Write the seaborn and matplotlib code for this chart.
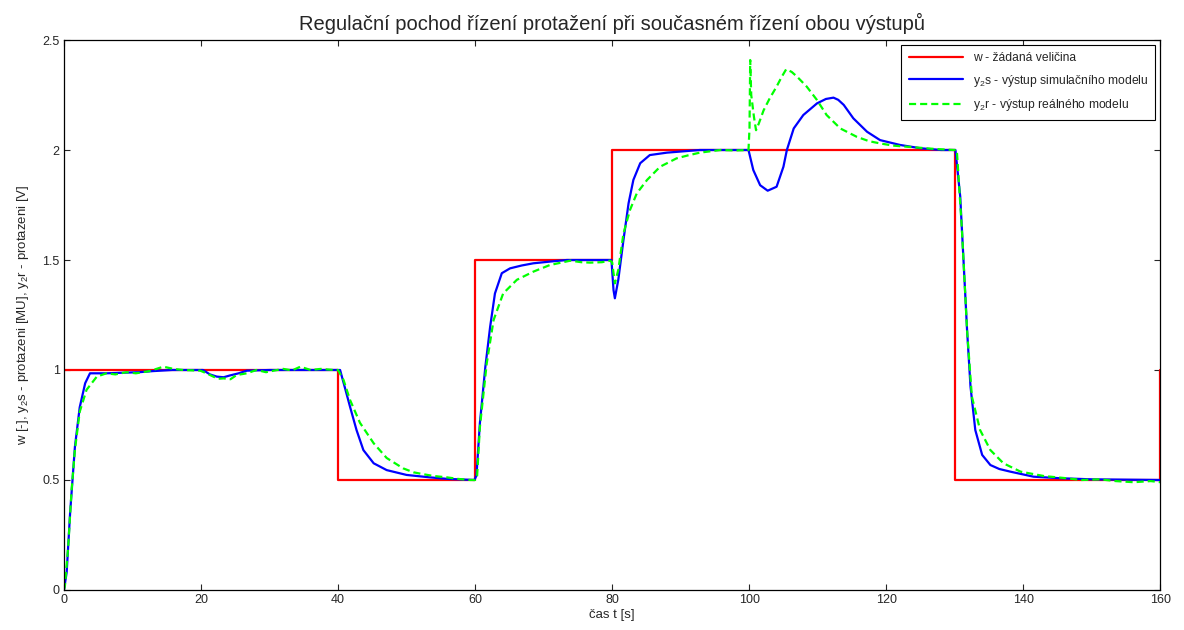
import matplotlib
matplotlib.use("Agg")
import pandas as pd
import seaborn as sns
import matplotlib.pyplot as plt

# w - setpoint (step sequence)
t_w = [0, 40, 40, 60, 60, 80, 80, 130, 130, 160, 160]
w = [1, 1, 0.5, 0.5, 1.5, 1.5, 2, 2, 0.5, 0.5, 1]

# y2s - simulation model output
t_y2s = [0, 0.4, 0.9, 1.6, 2.3, 3.1, 3.8, 5, 6.2, 8, 11, 13, 15.8, 18, 20.3, 21.3, 22.3, 23.3,
         24.2, 25.5, 26.7, 30, 35, 40,
         40.3, 41, 41.75, 42.7, 43.7, 45.2, 47.1, 50, 53.4, 56, 59.9,
         60.2, 60.7, 61.5, 62.2, 62.9, 63.9, 65.1, 66.8, 68.5, 71, 73.4, 79.9,
         80.2, 80.4, 80.9, 81.65, 82.4, 83.1, 84.1, 85.5, 88, 92.8, 99.9,
         100.6, 101.6, 102.7, 104.0, 105.0, 105.5, 106.5, 107.9, 109.9, 111.2, 112.3, 113.0,
         113.8, 115.2, 117.2, 119.1, 122, 125, 128, 130.1,
         130.8, 131.3, 131.8, 132.3, 133, 134, 135.2, 136.5, 138.1, 141.5, 145.4, 150, 160]
y2s = [0, 0.08, 0.35, 0.65, 0.83, 0.94, 0.985, 0.985, 0.985, 0.987, 0.99, 0.995, 1.0, 1.0, 1.0,
       0.98, 0.97, 0.967, 0.975, 0.985, 0.997, 1.0, 1.0, 1.0,
       1.0, 0.92, 0.833, 0.727, 0.636, 0.576, 0.545, 0.523, 0.512, 0.505, 0.5,
       0.52, 0.758, 1.015, 1.197, 1.348, 1.44, 1.462, 1.475, 1.485, 1.493, 1.5, 1.5,
       1.364, 1.326, 1.41, 1.59, 1.758, 1.864, 1.94, 1.977, 1.988, 2.0, 2.0,
       1.909, 1.84, 1.815, 1.833, 1.924, 2.0, 2.098, 2.159, 2.212, 2.232, 2.238, 2.228,
       2.205, 2.144, 2.083, 2.045, 2.023, 2.008, 2.0, 2.0,
       1.788, 1.485, 1.18, 0.924, 0.727, 0.614, 0.568, 0.55, 0.538, 0.515, 0.508, 0.503, 0.5]

# y2r - real model output
t_y2r = [0, 0.15, 0.63, 1.12, 1.6, 2.3, 3.3, 4.8, 6.2, 7.5, 9.1, 10.5, 12.5, 14.5, 16, 17.4,
         19.9, 20.8, 21.8, 22.5, 23.3, 24.3, 25.2, 26.7, 28.1, 29.5, 30.6, 32, 33.3, 34.5, 36,
         37.5, 39.4, 40,
         40.8, 41.75, 43.2, 45.2, 47.1, 49.5, 51, 52.5, 54, 55.9, 57.5, 59.3, 60,
         60.3, 60.7, 61.7, 62.7, 64.1, 66.1, 68.5, 70.9, 73.9, 75.5, 76.8, 78.5, 79.7, 80,
         80.4, 80.9, 81.65, 82.6, 83.6, 85.1, 87, 89.4, 91, 92.8, 95.8, 98, 99.9,
         100.05, 100.15, 100.3, 100.5, 100.7, 101.0, 101.4, 102.1, 103, 104.0, 104.7, 105.4,
         106.2, 107.0, 108.4, 109.9, 111.3, 113.3, 115.7, 117.5, 119.1, 121, 123, 125, 127, 129.9,
         130.3, 131.05, 131.8, 132.5, 133.7, 135.2, 137.1, 139.6, 143, 146.3, 148.5, 151.2,
         153.5, 156.1, 158.6, 160]
y2r = [0, 0.02, 0.2, 0.455, 0.636, 0.81, 0.91, 0.97, 0.985, 0.98, 0.99, 0.985, 0.995, 1.015,
       1.005, 1.0, 0.997, 0.985, 0.97, 0.96, 0.962, 0.958, 0.977, 0.985, 1.0, 0.99, 0.997, 1.005,
       0.998, 1.015, 1.0, 1.005, 1.0, 1.0,
       0.955, 0.864, 0.76, 0.667, 0.6, 0.553, 0.535, 0.526, 0.518, 0.512, 0.505, 0.5, 0.5,
       0.52, 0.74, 1.03, 1.227, 1.348, 1.41, 1.447, 1.477, 1.497, 1.49, 1.488, 1.49, 1.497, 1.49,
       1.394, 1.455, 1.62, 1.727, 1.803, 1.864, 1.924, 1.962, 1.975, 1.988, 2.0, 1.998, 2.0,
       2.1, 2.409, 2.25, 2.2, 2.15, 2.09, 2.12, 2.18, 2.235, 2.288, 2.33, 2.367,
       2.355, 2.333, 2.288, 2.227, 2.159, 2.098, 2.06, 2.04, 2.03, 2.02, 2.015, 2.01, 2.005, 2.0,
       2.0, 1.636, 1.18, 0.879, 0.727, 0.636, 0.576, 0.538, 0.518, 0.508, 0.5, 0.503,
       0.495, 0.49, 0.495, 0.49]

x_ticks = [0, 20, 40, 60, 80, 100, 120, 140, 160]
y_ticks = [0, 0.5, 1, 1.5, 2, 2.5]
y_tick_labels = ["0", "0.5", "1", "1.5", "2", "2.5"]

sns.set_style("ticks")
plt.rcParams["font.family"] = ["Liberation Sans", "DejaVu Sans"]
plt.rcParams["mathtext.default"] = "regular"

fig = plt.figure(figsize=(11.84, 6.3), dpi=100)
ax = fig.add_axes([0.054, 0.0635, 0.926, 0.873])

sns.lineplot(x=t_w, y=w, estimator=None, sort=False, color="#ff0000", lw=1.6,
             label="w - žádaná veličina", ax=ax)
sns.lineplot(x=t_y2s, y=y2s, estimator=None, sort=False, color="#0000ff", lw=1.6,
             label="y$_2$s - výstup simulačního modelu", ax=ax)
sns.lineplot(x=t_y2r, y=y2r, estimator=None, sort=False, color="#00ff00", lw=1.6,
             dashes=False, ax=ax, linestyle=(0, (3.2, 1.8)),
             label="y$_2$r - výstup reálného modelu")

ax.set_xlim(0, 160)
ax.set_ylim(0, 2.5)
ax.set_xticks(x_ticks)
ax.set_yticks(y_ticks)
ax.set_yticklabels(y_tick_labels)
ax.tick_params(direction="in", top=True, right=True, length=4, width=0.8,
               labelsize=9, pad=3)
for s in ax.spines.values():
    s.set_linewidth(0.9)
    s.set_color("black")

ax.set_title("Regulační pochod řízení protažení při současném řízení obou výstupů",
             fontsize=14.5, pad=7)
ax.set_xlabel("čas t [s]", fontsize=9.5, labelpad=2)
ax.set_ylabel("w [-], y$_2$s - protazeni [MU], y$_2$r - protazeni [V]", fontsize=9.5, labelpad=8)

leg = ax.legend(loc="upper right", fontsize=8.7, frameon=True, fancybox=False,
                edgecolor="black", framealpha=1, handlelength=4.5, borderpad=0.6,
                labelspacing=0.7, borderaxespad=0.4)
leg.get_frame().set_linewidth(0.8)

plt.savefig("out.png", dpi=100)
